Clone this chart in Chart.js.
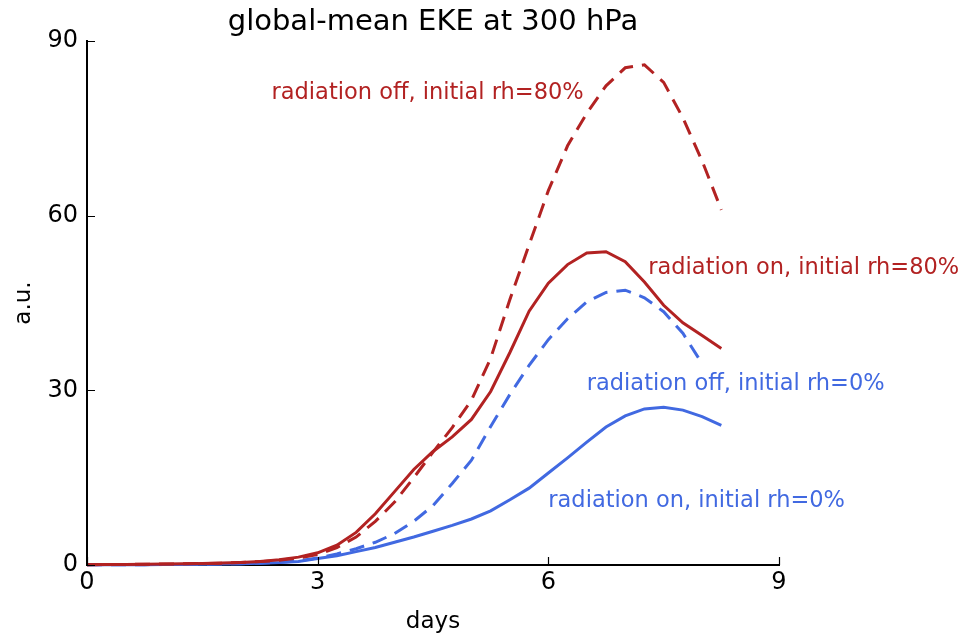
<!DOCTYPE html>
<html>
<head>
<meta charset="utf-8">
<title>global-mean EKE at 300 hPa</title>
<script src="https://cdn.jsdelivr.net/npm/chart.js@4.4.0/dist/chart.umd.min.js"></script>
<style>
  html, body { margin: 0; padding: 0; background: #ffffff; }
  #wrap { width: 977px; height: 634px; position: relative; }
</style>
</head>
<body>
<div id="wrap"><canvas id="eke" width="977" height="634"></canvas></div>
<script>
// Time axis: 6-hourly output, in days
const days = [0, 0.25, 0.5, 0.75, 1, 1.25, 1.5, 1.75, 2, 2.25, 2.5, 2.75, 3, 3.25, 3.5, 3.75,
              4, 4.25, 4.5, 4.75, 5, 5.25, 5.5, 5.75, 6, 6.25, 6.5, 6.75, 7, 7.25, 7.5, 7.75, 8, 8.25];

// Global-mean eddy kinetic energy at 300 hPa (arbitrary units)
const radOffRh80 = [0.05, 0.08, 0.1, 0.13, 0.17, 0.2, 0.25, 0.32, 0.42, 0.58, 0.82, 1.2, 1.8, 3.0, 4.8, 7.5,
                    10.8, 15.0, 19.4, 23.6, 28.3, 35.5, 45.6, 55.0, 64.3, 72.0, 77.6, 82.3, 85.4, 85.9, 82.9, 76.8, 69.4, 61.0];
const radOnRh80  = [0.05, 0.08, 0.1, 0.13, 0.17, 0.2, 0.26, 0.33, 0.45, 0.62, 0.9, 1.35, 2.1, 3.4, 5.6, 8.8,
                    12.6, 16.4, 19.5, 22.0, 25.0, 29.8, 36.5, 43.6, 48.4, 51.6, 53.6, 53.8, 52.1, 48.6, 44.6, 41.6, 39.4, 37.2];
const radOffRh0  = [0.03, 0.04, 0.05, 0.06, 0.08, 0.1, 0.13, 0.17, 0.23, 0.32, 0.45, 0.7, 1.2, 1.9, 2.8, 3.9,
                    5.4, 7.5, 10.2, 14.0, 18.0, 23.8, 29.3, 34.3, 38.7, 42.3, 45.2, 46.8, 47.2, 45.9, 43.5, 39.8, 34.6, null];
const radOnRh0   = [0.03, 0.04, 0.05, 0.06, 0.08, 0.1, 0.13, 0.17, 0.22, 0.3, 0.42, 0.62, 1.1, 1.6, 2.3, 3.0,
                    3.9, 4.8, 5.8, 6.8, 7.9, 9.3, 11.2, 13.2, 15.8, 18.4, 21.1, 23.7, 25.6, 26.8, 27.1, 26.6, 25.5, 24.0];

const xTicks = [0, 3, 6, 9];
const yTicks = [0, 30, 60, 90];

// Curve labels, anchored in data coordinates (left edge, baseline)
const curveLabels = [
  { text: 'radiation off, initial rh=80%', x: 2.4, y: 80, series: 'red' },
  { text: 'radiation on, initial rh=80%',  x: 7.3, y: 50, series: 'red' },
  { text: 'radiation off, initial rh=0%',  x: 6.5, y: 30, series: 'blue' },
  { text: 'radiation on, initial rh=0%',   x: 6.0, y: 10, series: 'blue' }
];

const RED = '#b22222';
const BLUE = '#4169e1';
const FONT = '"DejaVu Sans", "Liberation Sans", sans-serif';
const colorOf = { red: RED, blue: BLUE };

function toPoints(vals) {
  return vals.map((v, i) => ({ x: days[i], y: v })).filter(p => p.y !== null);
}

function series(label, vals, color, dashed) {
  return {
    label: label,
    data: toPoints(vals),
    borderColor: color,
    backgroundColor: color,
    borderWidth: 3,
    borderDash: dashed ? [15, 9] : [],
    pointRadius: 0,
    pointHoverRadius: 0,
    tension: 0,
    fill: false,
    clip: false
  };
}

// Tick marks pointing into the plot, plus title, axis titles and curve labels
const decorations = {
  id: 'decorations',
  afterDraw(chart) {
    const { ctx, chartArea: a, scales: { x, y } } = chart;
    ctx.save();
    ctx.strokeStyle = '#000';
    ctx.lineWidth = 1.2;
    ctx.beginPath();
    x.ticks.forEach(t => {
      const px = Math.round(x.getPixelForValue(t.value)) + 0.5;
      ctx.moveTo(px, a.bottom);
      ctx.lineTo(px, a.bottom - 8);
    });
    y.ticks.forEach(t => {
      const py = Math.round(y.getPixelForValue(t.value)) + 0.5;
      ctx.moveTo(a.left, py);
      ctx.lineTo(a.left + 8, py);
    });
    ctx.stroke();

    // title
    ctx.fillStyle = '#000';
    ctx.textAlign = 'center';
    ctx.textBaseline = 'alphabetic';
    ctx.font = '29px ' + FONT;
    ctx.fillText('global-mean EKE at 300 hPa', (a.left + a.right) / 2, 30);

    // x-axis title
    ctx.font = '23px ' + FONT;
    ctx.fillText('days', (a.left + a.right) / 2, 628);

    // y-axis title
    ctx.save();
    ctx.translate(30, (a.top + a.bottom) / 2);
    ctx.rotate(-Math.PI / 2);
    ctx.fillText('a.u.', 0, 0);
    ctx.restore();

    // curve labels
    ctx.font = '22.5px ' + FONT;
    ctx.textAlign = 'left';
    curveLabels.forEach(l => {
      ctx.fillStyle = colorOf[l.series];
      ctx.fillText(l.text, x.getPixelForValue(l.x), y.getPixelForValue(l.y));
    });
    ctx.restore();
  }
};

new Chart(document.getElementById('eke'), {
  type: 'line',
  data: {
    datasets: [
      series('radiation off, initial rh=80%', radOffRh80, RED, true),
      series('radiation on, initial rh=80%', radOnRh80, RED, false),
      series('radiation off, initial rh=0%', radOffRh0, BLUE, true),
      series('radiation on, initial rh=0%', radOnRh0, BLUE, false)
    ]
  },
  options: {
    responsive: false,
    animation: false,
    devicePixelRatio: 1,
    events: [],
    layout: { padding: { top: 41, right: 198, left: 0, bottom: 0 } },
    plugins: {
      legend: { display: false },
      title: { display: false },
      tooltip: { enabled: false }
    },
    scales: {
      x: {
        type: 'linear',
        min: 0,
        max: 9,
        afterBuildTicks: s => { s.ticks = xTicks.map(v => ({ value: v })); },
        afterFit: s => { s.height = 69; },
        grid: { display: false, drawTicks: false },
        border: { display: true, color: '#000', width: 2 },
        ticks: {
          color: '#000',
          padding: 3,
          maxRotation: 0,
          font: { family: FONT, size: 24 }
        }
      },
      y: {
        type: 'linear',
        min: 0,
        max: 90,
        afterBuildTicks: s => { s.ticks = yTicks.map(v => ({ value: v })); },
        afterFit: s => { s.width = 87; },
        grid: { display: false, drawTicks: false },
        border: { display: true, color: '#000', width: 2 },
        ticks: {
          color: '#000',
          padding: 9,
          font: { family: FONT, size: 24 }
        }
      }
    }
  },
  plugins: [decorations]
});
</script>
</body>
</html>
